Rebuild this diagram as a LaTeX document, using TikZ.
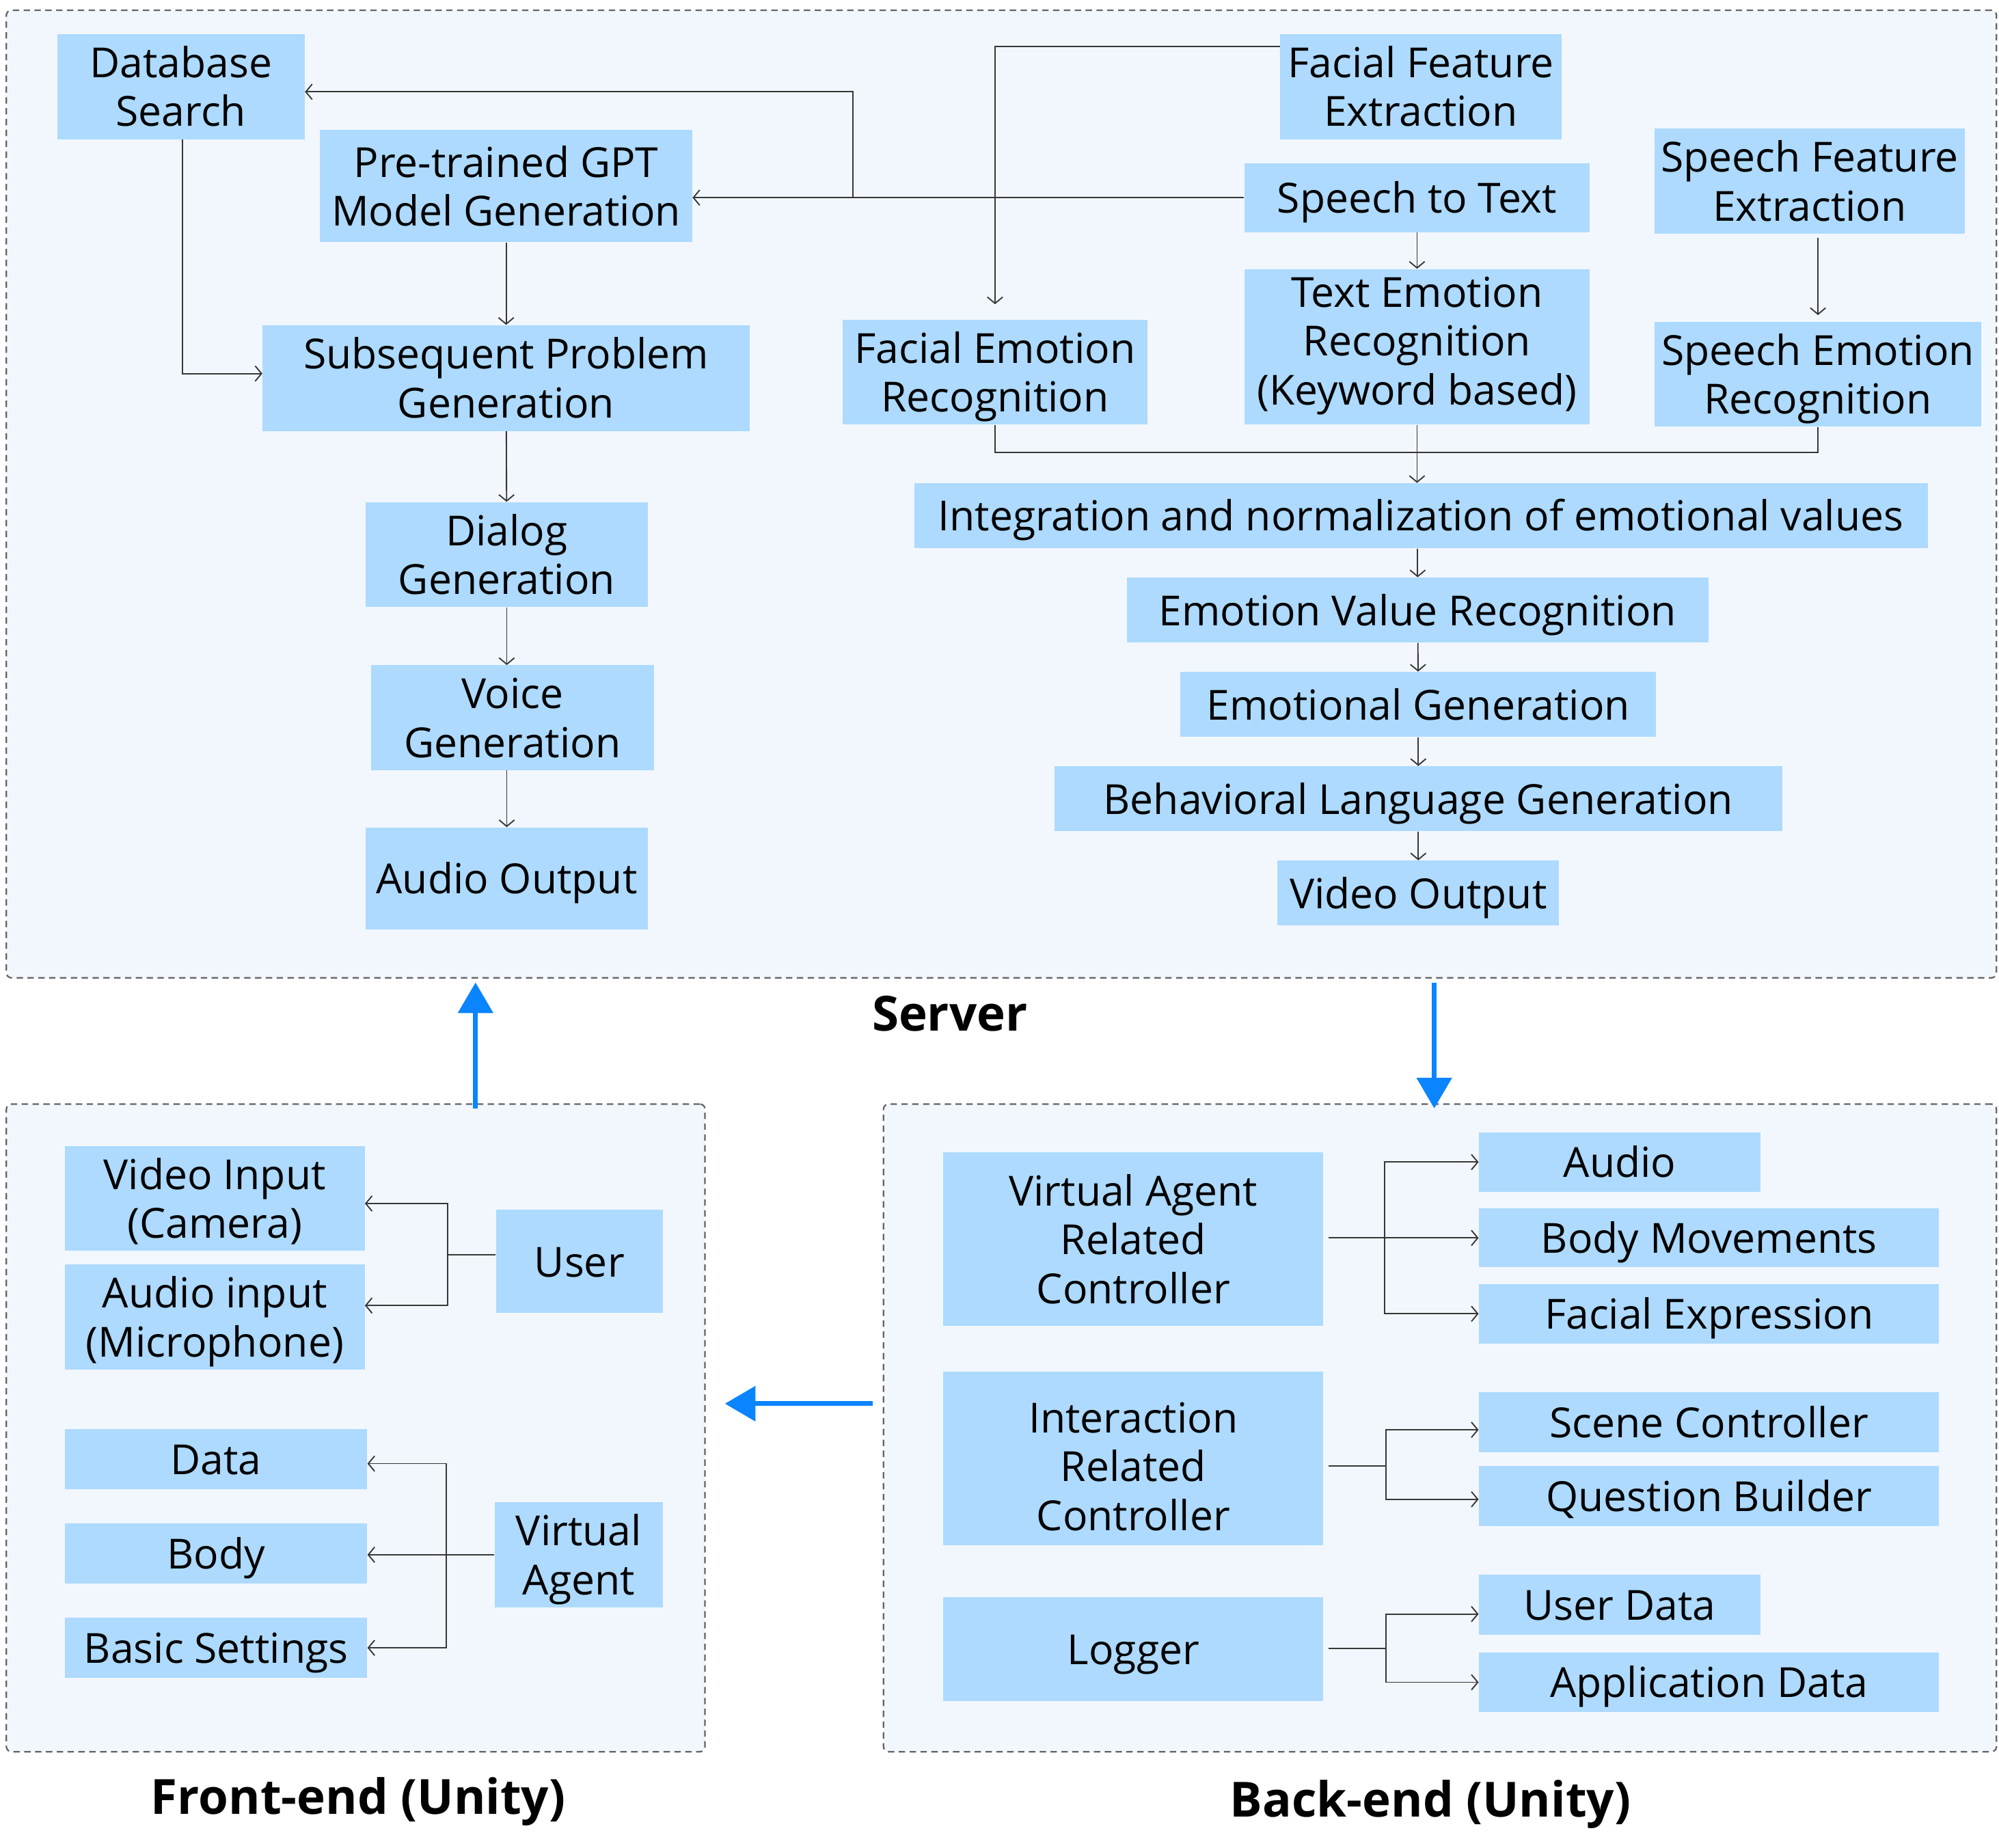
\documentclass[tikz,border=0pt]{standalone}
\usepackage{fontspec}
\setmainfont{Open Sans}
\usetikzlibrary{arrows.meta}
\definecolor{boxblue}{RGB}{173,218,254}
\definecolor{panelfill}{RGB}{242,247,254}
\definecolor{panelline}{RGB}{100,100,100}
\definecolor{linegray}{RGB}{55,55,55}
\definecolor{flowblue}{RGB}{10,132,255}
\tikzset{
  box/.style={fill=boxblue, align=center, inner sep=0pt, font=\fontsize{32.5}{38.3}\selectfont,
    execute at begin node={\rule{0pt}{#1}},
    execute at end node={\rule[-10pt]{0pt}{0pt}}},
  box/.default=34pt,
  panelbox/.style={draw=panelline, fill=panelfill, line width=1.2pt, dash pattern=on 5pt off 3.5pt, rounded corners=4pt},
  link/.style={draw=linegray, line width=1pt},
  arr/.style={link, -{Straight Barb[length=5pt,width=12pt]}},
  bigarr/.style={draw=flowblue, line width=3.8pt, -{Triangle[length=24pt,width=27pt]}},
  paneltitle/.style={font=\fontsize{38}{44}\selectfont\bfseries}
}
\begin{document}
\begin{tikzpicture}[x=1pt,y=-1pt]
  \useasboundingbox (0,0) rectangle (1568,1449);
  % panels
  \node[panelbox, minimum width=1561pt, minimum height=759pt] (server) at (785.5,387.5) {};
  \node[panelbox, minimum width=548pt, minimum height=508pt] (front) at (279,1120) {};
  \node[panelbox, minimum width=873pt, minimum height=508pt] (back) at (1129.5,1120) {};
  \node[paneltitle] (srvtitle) at (745,795) {Server};
  \node[paneltitle] (fronttitle) at (281,1413) {Front-end (Unity)};
  \node[paneltitle] (backtitle) at (1122,1415) {Back-end (Unity)};

  % server, left column
  \node[box=72.3pt, minimum width=194pt, minimum height=80pt] (dbs) at (142,68) {Database\\Search};
  \node[box=72.3pt, minimum width=292pt, minimum height=88pt] (gpt) at (397,146) {Pre-trained GPT\\Model Generation};
  \node[box=72.3pt, minimum width=382pt, minimum height=83pt] (spg) at (397,296.5) {Subsequent Problem\\Generation};
  \node[box=72.3pt, minimum width=221pt, minimum height=80pt] (dlg) at (397.5,435) {Dialog\\Generation};
  \node[box=72.3pt, minimum width=222pt, minimum height=80pt] (voice) at (402,563) {Voice\\Generation};
  \node[box, minimum width=221pt, minimum height=80pt] (aout) at (397.5,689) {Audio Output};

  % server, right part
  \node[box=72.3pt, minimum width=221pt, minimum height=80pt] (ffe) at (1114.5,68) {Facial Feature\\Extraction};
  \node[box, minimum width=271pt, minimum height=54pt] (stt) at (1111.5,155) {Speech to Text};
  \node[box=72.3pt, minimum width=243pt, minimum height=80pt] (sfe) at (1419.5,142) {Speech Feature\\Extraction};
  \node[box=72.3pt, minimum width=239pt, minimum height=80pt] (fer) at (780.5,292) {Facial Emotion\\Recognition};
  \node[box=101pt, minimum width=271pt, minimum height=122pt] (tem) at (1111.5,272) {Text Emotion\\Recognition\\(Keyword based)};
  \node[box=72.3pt, minimum width=256pt, minimum height=79pt] (ser) at (1426,293.5) {Speech Emotion\\Recognition};
  \node[box, minimum width=795pt, minimum height=51pt] (integ) at (1114.5,404.5) {Integration and normalization of emotional values};
  \node[box, minimum width=456pt, minimum height=51pt] (evr) at (1112,478.5) {Emotion Value Recognition};
  \node[box, minimum width=373pt, minimum height=51pt] (emog) at (1112.5,552.5) {Emotional Generation};
  \node[box, minimum width=571pt, minimum height=51pt] (blg) at (1112.5,626.5) {Behavioral Language Generation};
  \node[box, minimum width=221pt, minimum height=51pt] (vout) at (1112.5,700.5) {Video Output};

  \coordinate (split) at (669,155);
  \coordinate (join) at (1111.5,355);
  \draw[arr] ([yshift=-10pt]ffe.north west) -| ([yshift=12pt]fer.north);
  \draw[arr] (stt.west) -- (gpt.east |- stt.west);
  \draw[arr] (split) |- ([yshift=-4pt]dbs.east);
  \draw[arr] (stt) -- (tem);
  \draw[arr] ([yshift=-3pt]ser.north |- sfe.south) -- ([yshift=5pt]ser.north);
  \draw[link] (fer.south) |- (join) -| (ser.south);
  \draw[arr] (tem.south) -- (tem.south |- integ.north);
  \draw[arr] ([xshift=1pt]dbs.south) |- ([yshift=3.5pt]spg.west);
  \draw[arr] (gpt) -- (spg);
  \draw[arr] (spg) -- (dlg);
  \draw[arr] (dlg.south) -- (dlg.south |- voice.north);
  \draw[arr] (dlg.south |- voice.south) -- (aout.north);
  \draw[arr] (integ.south -| evr.north) -- (evr.north);
  \draw[arr] (evr) -- (emog);
  \draw[arr] (emog) -- (blg);
  \draw[arr] (blg) -- (vout);

  % front-end
  \node[box=72.3pt, minimum width=235pt, minimum height=80pt] (vin) at (168.5,940) {Video Input\\(Camera)};
  \node[box=72.3pt, minimum width=235pt, minimum height=80pt] (ain) at (168.5,1033) {Audio input\\(Microphone)};
  \node[box, minimum width=131pt, minimum height=81pt] (user) at (454.5,989.5) {User};
  \node[box, minimum width=237pt, minimum height=47pt] (data) at (169.5,1144.5) {Data};
  \node[box, minimum width=237pt, minimum height=47pt] (body) at (169.5,1218.5) {Body};
  \node[box, minimum width=237pt, minimum height=47pt] (bset) at (169.5,1292.5) {Basic Settings};
  \node[box=72.3pt, minimum width=132pt, minimum height=81pt] (vagent) at (454,1219.5) {Virtual\\Agent};

  \coordinate (ubranch) at (351,984);
  \coordinate (vbranch) at (350,1219);
  \draw[link] (user.west |- ubranch) -- (ubranch);
  \draw[arr] (ubranch) |- ([yshift=-4pt]vin.east);
  \draw[arr] (ubranch) |- ([yshift=9pt]ain.east);
  \draw[arr] (vagent.west) -- (body.east |- vagent.west);
  \draw[arr] (vbranch) |- ([yshift=-3.5pt]data.east);
  \draw[arr] (vbranch) |- (bset.east);

  % back-end
  \node[box=110.6pt, minimum width=298pt, minimum height=136pt] (varc) at (889,972) {Virtual Agent\\Related\\Controller};
  \node[box=122.6pt, minimum width=298pt, minimum height=136pt] (irc) at (889,1144) {Interaction\\Related\\Controller};
  \node[box, minimum width=298pt, minimum height=81pt] (logger) at (889,1293.5) {Logger};
  \node[box, minimum width=221pt, minimum height=47pt] (audio) at (1270.5,911.5) {Audio};
  \node[box, minimum width=361pt, minimum height=46pt] (bmov) at (1340.5,971) {Body Movements};
  \node[box, minimum width=361pt, minimum height=47pt] (fexp) at (1340.5,1030.5) {Facial Expression};
  \node[box, minimum width=361pt, minimum height=47pt] (scene) at (1340.5,1115.5) {Scene Controller};
  \node[box, minimum width=361pt, minimum height=47pt] (qb) at (1340.5,1173.5) {Question Builder};
  \node[box, minimum width=221pt, minimum height=47pt] (udata) at (1270.5,1258.5) {User Data};
  \node[box, minimum width=361pt, minimum height=47pt] (adata) at (1340.5,1319.5) {Application Data};

  \coordinate (vabr) at (1086,971);
  \coordinate (icbr) at (1087,1150);
  \coordinate (lgbr) at (1087,1293);
  \draw[arr] ([xshift=4pt]varc.east |- bmov.west) -- (bmov.west);
  \draw[arr] (vabr) |- (audio.west);
  \draw[arr] (vabr) |- (fexp.west);
  \draw[link] ([xshift=4pt]irc.east |- icbr) -- (icbr);
  \draw[arr] (icbr) |- ([yshift=-6pt]scene.west);
  \draw[arr] (icbr) |- ([yshift=-2.5pt]qb.west);
  \draw[link] ([xshift=4pt]logger.east |- lgbr) -- (lgbr);
  \draw[arr] (lgbr) |- ([yshift=-7.5pt]udata.west);
  \draw[arr] (lgbr) |- (adata.west);

  % flow between panels
  \draw[bigarr] ([xshift=94pt,yshift=-4pt]front.north) -- ([xshift=94pt,yshift=-3pt]front.north |- server.south);
  \draw[bigarr] ([xshift=-4.5pt,yshift=-3pt]server.south -| back.north) -- ([xshift=-4.5pt,yshift=-4pt]back.north);
  \draw[bigarr] ([xshift=-8pt,yshift=19pt]back.west) -- ([xshift=15pt,yshift=19pt]front.east);
\end{tikzpicture}
\end{document}
